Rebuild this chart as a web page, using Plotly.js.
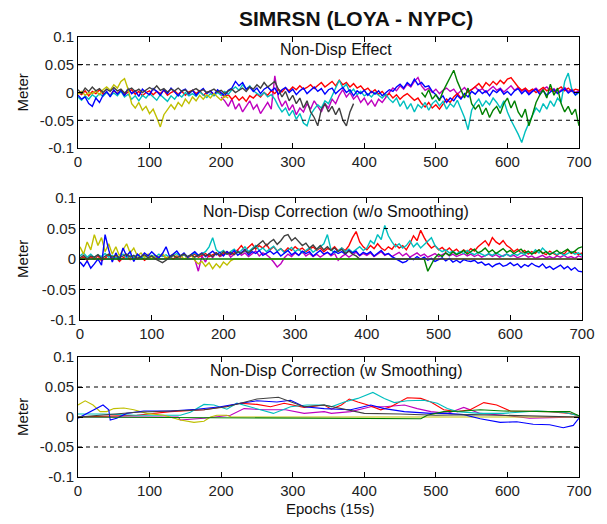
<!DOCTYPE html>
<html><head><meta charset="utf-8">
<script src="https://cdn.plot.ly/plotly-3.0.1.min.js"></script>
<style>html,body{margin:0;padding:0;background:#fff}#chart{width:607px;height:524px}</style>
</head><body><div id="chart"></div>
<script>
// ---------- axes / labels ----------
const EPOCH_STEP = 5;
const xTickVals = [0, 100, 200, 300, 400, 500, 600, 700];
const xTickText = ['0', '100', '200', '300', '400', '500', '600', '700'];
const yTickVals = [-0.1, -0.05, 0, 0.05, 0.1];
const yTickText = ['-0.1', '-0.05', '0', '0.05', '0.1'];
const refLevels = [-0.05, 0.05];
const mainTitle = 'SIMRSN (LOYA - NYPC)';
const panelTitles = ['Non-Disp Effect', 'Non-Disp Correction (w/o Smoothing)', 'Non-Disp Correction (w Smoothing)'];
const yLabel = 'Meter';
const xLabel = 'Epochs (15s)';
const colors = {blue:'#0000ff', green:'#008000', red:'#ff0000', cyan:'#00bfbf', magenta:'#bf00bf', yellow:'#bfbf00', gray:'#404040'};

// ---------- panel 1: Non-Disp Effect (mm, one sample every 5 epochs from start) ----------
const effBlueStart = 0;
const effBlue = [-5,-12,-8,-20,-25,-10,-18,-5,2,-8,5,-3,4,-6,8,-2,3,-7,6,0,-4,7,2,-5,5,-2,8,0,-6,3,6,-3,4,-5,2,7,-2,3,-4,5,0,-6,4,8,20,12,18,6,10,2,8,-2,6,10,3,8,-3,5,9,0,6,-4,3,8,-2,4,10,2,7,-3,5,8,-2,4,9,0,5,-6,3,-2,4,-5,2,-3,3,-6,0,5,2,10,15,8,18,12,24,14,18,10,12,2,-4,-12,-6,-18,-10,-15,-5,-12,-2,-8,2,-3,5,-2,3,-6,4,0,6,-3,2,-5,3,7,-2,4,-4,2,6,-3,3,-5,1,5,-2,3,7,-1,4,-4,2];
const effRedStart = 0;
const effRed = [0,-4,3,-6,2,-2,5,-3,0,-5,3,-2,4,-4,1,5,-3,2,-6,0,3,-4,2,-2,4,-5,0,3,-3,2,-5,1,4,-2,3,-5,0,2,-4,1,-3,-8,-4,-12,-6,-14,-8,-16,-6,-10,-3,-8,0,-5,3,-2,6,1,8,3,10,5,12,6,9,14,7,12,18,10,15,20,12,22,14,18,10,16,8,12,4,8,0,5,-3,2,-6,-2,-10,-4,-12,-6,-2,-8,-14,-10,-20,-26,-18,-28,-22,-30,-20,-12,-18,-8,-2,-10,-4,2,5,10,16,8,18,12,20,14,22,16,24,27,18,10,4,8,2,6,0,5,9,3,7,1,5,10,3,8,2,6,4];
const effCyanStart = 0;
const effCyan = [-8,-14,-6,-12,-4,-9,-2,-7,0,-5,-1,-6,2,-8,-3,-12,-6,-15,-5,-10,-2,-8,-14,-4,-10,-16,-6,-12,-3,-8,0,-6,-2,-7,1,-4,-9,-2,-6,0,-5,2,-3,5,10,4,14,6,12,3,-2,-6,0,-8,-4,-12,-25,-35,-28,-42,-32,-48,-38,-55,-60,-40,-30,-22,-28,-15,-20,-5,10,22,8,15,0,6,-4,2,-6,-2,-8,0,-5,-10,-3,-12,-18,-10,-25,-15,-30,-20,-35,-22,-28,-18,-32,-20,-14,-24,-16,-30,-20,-26,-14,-30,-45,-67,-32,-20,-12,-25,-15,-22,-10,-18,-28,-15,-35,-50,-62,-75,-90,-70,-55,-40,-28,-35,-20,-30,-15,-25,-10,-18,20,35,5,-5,0];
const effGrayStart = 0;
const effGray = [5,-2,8,2,10,3,7,0,6,2,9,3,6,-1,5,8,2,6,0,4,9,5,12,4,7,1,6,3,8,2,5,-1,4,7,2,5,0,3,6,1,4,-2,3,6,0,4,8,2,10,6,14,8,18,10,15,20,6,-8,2,-15,-5,-20,-10,-28,-15,-35,-45,-60,-30,-20,-35,-25,-40,-28,-50,-60,-35,-20];
const effYellowStart = 0;
const effYellow = [-3,2,-5,0,-2,3,-4,5,10,4,14,8,20,25,6,-20,-28,-18,-32,-25,-38,-30,-45,-62,-40,-32,-22,-30,-18,-25,-12,-20,-8,-15,-5,-12,-4,-10,-2,-8,-14,-6,-10];
const effMagentaStart = 200;
const effMagenta = [-8,-15,-25,-12,-30,-20,-35,-25,-15,-30,-22,-38,-28,-18,-30,30,-10,-25,-15,-32,-22,-40,-28,-35,-20,-30,-15,-25,-35,-20,-28,-12,-20,-5,5,-8,0,-12,-5,-18,-10,-22,-14,-25,-12,-18,-8,0,8,3,12,6,15,10,20,27,12,4,8,0,6,-2,4,8,2,6,-3,3,9,1,5,10,3,7,0,5,11,4,8,1,6,12,4,9,2,7,-2,4,8,1,6,10,3,7,0,5,9,2,6,0,3];
const effGreenStart = 480;
const effGreen = [0,-8,5,-12,-4,-15,2,15,30,40,20,5,-10,8,-20,-30,-22,-40,-28,-45,-32,-25,-38,-20,-10,-28,-15,-35,-45,-30,-60,-40,-18,-5,5,-10,15,-5,8,-20,-35,-25,-40,-30,-60];

// ---------- panel 2: Non-Disp Correction without smoothing ----------
const corYellowStart = 0;
const corYellow = [20,8,28,15,40,22,35,12,25,8,20,5,15,25,10,18,5,10,2,8,0,6,3,9,1,5,8,2,6,0,4,7,-2,-8,-4,-12,-6,-16,-8,-14,-5,-10,-3];
const corYellowRestX = [215, 700];
const corYellowRestY = [0, 0];
const corBlueStart = 0;
const corBlue = [-5,-12,-3,-15,-8,0,-10,40,15,-5,10,-2,18,5,12,-4,8,3,10,5,12,6,2,9,20,4,8,13,5,10,3,8,12,6,10,4,9,13,7,11,5,12,8,14,6,10,15,7,12,9,14,6,10,13,8,12,5,10,14,7,11,6,13,9,12,5,10,14,8,11,7,13,9,12,8,14,10,13,6,11,8,12,5,10,14,7,9,4,1,-3,-6,-4,2,-1,4,0,3,-2,1,-4,-1,2,-3,1,-5,-2,-6,-1,-3,-4,-2,-7,-5,-10,-8,-13,-9,-7,-12,-10,-6,-11,-8,-14,-9,-12,-7,-11,-13,-8,-15,-12,-17,-13,-10,-16,-12,-18,-14,-20,-21];
const corRedStart = 0;
const corRed = [0,3,-2,4,0,5,-3,2,6,0,3,-4,2,5,-1,3,0,4,-2,2,5,1,3,6,2,4,0,5,3,7,2,5,8,3,6,9,4,7,10,5,8,12,7,10,15,22,14,20,25,16,22,18,24,15,20,13,17,12,18,14,20,15,18,12,16,20,14,18,12,17,15,20,13,18,14,22,35,45,28,20,15,22,17,25,18,14,20,16,24,18,22,15,25,38,30,47,35,25,18,22,15,19,13,18,12,16,10,15,11,17,13,20,25,30,22,35,28,24,30,22,18,12,16,10,14,8,12,9,15,10,7,13,9,6,11,8,15,9,12,7,10];
const corCyanStart = 0;
const corCyan = [5,10,3,8,2,7,4,9,3,6,1,5,8,2,6,3,7,1,5,2,6,3,8,4,7,2,5,9,4,7,3,6,10,5,8,12,20,35,15,10,14,8,12,16,10,14,20,12,17,22,14,18,12,16,21,13,17,10,15,19,12,16,10,14,18,11,15,20,25,40,15,10,14,18,12,16,11,15,20,14,18,30,25,40,32,55,38,28,20,25,18,22,30,20,26,18,24,30,35,22,16,12,15,10,13,8,12,9,14,10,7,11,8,5,9,6,10,7,4,8,5,9,6,10,7,12,8,15,10,18,12,8,11,7,10,6,9,12,8,10,6];
const corMagentaLeadX = [0, 160];
const corMagentaLeadY = [0, 0];
const corMagentaStart = 160;
const corMagenta = [0,-20,5,-5,8,2,10,4,7,12,3,8,14,6,10,4,9,13,5,10,7,2,-5,-13,-8,2,8,4,10,6,12,5,9,4,8,3,7,11,5,9,-2,4,8,3,7,11,5,9,6,10,4,8,12,6,9,4,8,11,5,9,3,7,10,5,8,3,6,9,4,7,10,5,8,4,7,9,5,8,4,7,3,6,8,4,7,3,5,8,4,6,2,5,7,3,5,1,4,6,2,4,1,5,3,6,2,4,1,5,3];
const corGrayStart = 0;
const corGray = [2,6,0,5,3,7,1,5,8,3,6,2,5,8,3,6,1,4,7,2,5,0,-3,-6,-2,3,6,2,5,8,4,7,3,6,9,5,8,4,10,6,12,8,11,7,12,9,14,10,15,20,25,30,22,28,32,24,30,38,40,30,35,28,22,26,18,23,16,22,15,20,14,18,12,16,9,13,8,5];
const corGrayRestX = [390, 700];
const corGrayRestY = [0, 0];
const corGreenLeadX = [0, 480];
const corGreenLeadY = [0, 0];
const corGreenStart = 480;
const corGreen = [0,-20,-8,2,8,4,10,6,12,7,10,14,8,12,16,10,13,18,11,15,9,13,17,11,14,9,12,16,10,13,8,11,15,9,12,7,10,14,9,12,16,10,13,18,20];

// ---------- panel 3: Non-Disp Correction with smoothing (epoch, mm) ----------
const smYellowX = [0,10,21,31,40,50,64,78,96,120,143,162,176,185,194,208,214,700];
const smYellowY = [20,27,20,9,9,14,15,12,6,3,-5,-9,-7,0,3,3,0,0];
const smBlueX = [0,12,24,35,43,45,54,68,92,129,166,199,227,250,278,297,316,344,381,409,428,456,493,516,539,562,590,613,636,659,678,692,700];
const smBlueY = [-2,6,14,20,12,-5,-2,6,10,10,13,17,23,27,25,28,17,14,12,20,14,9,6,6,4,-3,-9,-8,-12,-13,-18,-14,-2];
const smGrayX = [0,35,82,129,176,208,232,250,280,297,316,344,365,385,400,450,500,550,600,650,700];
const smGrayY = [0,3,8,10,12,17,25,30,33,25,17,20,15,10,6,5,3,4,3,2,0];
const smRedX = [0,35,82,129,176,208,227,250,269,288,316,344,354,368,379,391,405,423,437,460,479,493,511,530,548,567,585,604,631,659,687,700];
const smRedY = [0,1,3,9,12,18,23,21,17,23,16,20,13,20,30,25,20,12,17,32,31,25,12,9,12,24,20,10,9,9,6,2];
const smCyanX = [0,35,82,129,143,157,176,190,208,222,250,273,297,320,344,354,372,391,412,428,442,460,483,502,516,530,562,594,641,678,700];
const smCyanY = [5,5,3,3,3,8,21,20,13,23,14,6,17,20,20,17,25,31,41,31,24,27,28,23,14,9,6,6,10,8,2];
const smMagentaX = [0,140,143,176,213,232,260,290,316,344,354,381,409,428,456,474,493,516,539,562,594,631,659,700];
const smMagentaY = [0,0,-5,-2,3,14,12,12,6,9,6,9,17,17,20,14,9,6,16,6,3,-2,-1,0];
const smGreenX = [0,479,488,511,539,562,594,631,659,687,700];
const smGreenY = [0,-3,3,9,10,12,10,9,9,9,2];

// ---------- build ----------
const mm = v => v / 1000;
function sampled(start, vals) { return vals.map((_, i) => start + i * EPOCH_STEP); }
function line(x, yMm, color, axis, width) {
  return {type:'scatter', mode:'lines', x, y:yMm.map(mm), xaxis:'x'+axis, yaxis:'y'+axis,
          line:{color, width}, hoverinfo:'skip', showlegend:false};
}
function joined(partsX, partsY) { return [[].concat(...partsX), [].concat(...partsY)]; }

const NOISY_W = 1.4, SMOOTH_W = 1.1;
const traces = [];
// panel 1
traces.push(line(sampled(effMagentaStart, effMagenta), effMagenta, colors.magenta, '', NOISY_W));
traces.push(line(sampled(effRedStart, effRed), effRed, colors.red, '', NOISY_W));
traces.push(line(sampled(effCyanStart, effCyan), effCyan, colors.cyan, '', NOISY_W));
traces.push(line(sampled(effBlueStart, effBlue), effBlue, colors.blue, '', NOISY_W));
traces.push(line(sampled(effYellowStart, effYellow), effYellow, colors.yellow, '', NOISY_W));
traces.push(line(sampled(effGreenStart, effGreen), effGreen, colors.green, '', NOISY_W));
traces.push(line(sampled(effGrayStart, effGray), effGray, colors.gray, '', NOISY_W));
// panel 2
let jx, jy;
[jx, jy] = joined([corMagentaLeadX, sampled(corMagentaStart, corMagenta)], [corMagentaLeadY, corMagenta]);
traces.push(line(jx, jy, colors.magenta, '2', NOISY_W));
traces.push(line(sampled(corRedStart, corRed), corRed, colors.red, '2', NOISY_W));
traces.push(line(sampled(corCyanStart, corCyan), corCyan, colors.cyan, '2', NOISY_W));
[jx, jy] = joined([sampled(corYellowStart, corYellow), corYellowRestX], [corYellow, corYellowRestY]);
traces.push(line(jx, jy, colors.yellow, '2', NOISY_W));
traces.push(line(sampled(corBlueStart, corBlue), corBlue, colors.blue, '2', NOISY_W));
[jx, jy] = joined([corGreenLeadX, sampled(corGreenStart, corGreen)], [corGreenLeadY, corGreen]);
traces.push(line(jx, jy, colors.green, '2', NOISY_W));
[jx, jy] = joined([sampled(corGrayStart, corGray), corGrayRestX], [corGray, corGrayRestY]);
traces.push(line(jx, jy, colors.gray, '2', NOISY_W));
// panel 3
traces.push(line(smMagentaX, smMagentaY, colors.magenta, '3', SMOOTH_W));
traces.push(line(smRedX, smRedY, colors.red, '3', SMOOTH_W));
traces.push(line(smCyanX, smCyanY, colors.cyan, '3', SMOOTH_W));
traces.push(line(smYellowX, smYellowY, colors.yellow, '3', SMOOTH_W));
traces.push(line(smBlueX, smBlueY, colors.blue, '3', SMOOTH_W));
traces.push(line(smGreenX, smGreenY, colors.green, '3', SMOOTH_W));
traces.push(line(smGrayX, smGrayY, colors.gray, '3', SMOOTH_W));

const W = 607, H = 524;
const panels = [
  {x:[78, 579], y:[37, 148]},
  {x:[80, 582], y:[198, 320]},
  {x:[78, 579], y:[357, 477]}
];
const FONT = 'Liberation Sans, Arial, Helvetica, sans-serif';
const tickFont = {family:FONT, size:15, color:'#222'};
const layout = {width:W, height:H, margin:{l:0, r:0, t:0, b:0}, paper_bgcolor:'#fff', plot_bgcolor:'#fff',
  showlegend:false, shapes:[], annotations:[]};
panels.forEach((p, i) => {
  const s = i === 0 ? '' : String(i + 1);
  layout['xaxis' + s] = {domain:[p.x[0] / W, p.x[1] / W], anchor:'y' + s, range:[0, 700],
    tickmode:'array', tickvals:xTickVals, ticktext:xTickText, ticks:'inside', ticklen:5, tickcolor:'#000',
    showline:true, linecolor:'#000', linewidth:1, mirror:'ticks', showgrid:false, zeroline:false,
    tickfont:tickFont, fixedrange:true};
  layout['yaxis' + s] = {domain:[1 - p.y[1] / H, 1 - p.y[0] / H], anchor:'x' + s, range:[-0.1, 0.1],
    tickmode:'array', tickvals:yTickVals, ticktext:yTickText, ticks:'inside', ticklen:5, tickcolor:'#000',
    showline:true, linecolor:'#000', linewidth:1, mirror:'ticks', showgrid:false, zeroline:false,
    tickfont:tickFont, fixedrange:true};
  refLevels.forEach(v => layout.shapes.push({type:'line', xref:'x' + s + ' domain', x0:0, x1:1, yref:'y' + s, y0:v, y1:v,
    line:{color:'#000', width:1, dash:'4px,4px'}, layer:'above'}));
  layout.annotations.push({text:panelTitles[i], xref:'paper', yref:'paper', x:336 / W, y:1 - (p.y[0] + 13) / H,
    xanchor:'center', yanchor:'middle', showarrow:false, font:{family:FONT, size:16, color:'#111'}});
  layout.annotations.push({text:yLabel, xref:'paper', yref:'paper', x:22 / W, y:1 - (p.y[0] + p.y[1]) / 2 / H,
    xanchor:'center', yanchor:'middle', textangle:-90, showarrow:false, font:{family:FONT, size:15, color:'#111'}});
});
layout.annotations.push({text:'<b>' + mainTitle + '</b>', xref:'paper', yref:'paper', x:356 / W, y:1 - 18 / H,
  xanchor:'center', yanchor:'middle', showarrow:false, font:{family:FONT, size:21, color:'#111'}});
layout.annotations.push({text:xLabel, xref:'paper', yref:'paper', x:330 / W, y:1 - 508 / H,
  xanchor:'center', yanchor:'middle', showarrow:false, font:{family:FONT, size:15, color:'#111'}});

Plotly.newPlot('chart', traces, layout, {displayModeBar:false, staticPlot:true});
</script></body></html>
